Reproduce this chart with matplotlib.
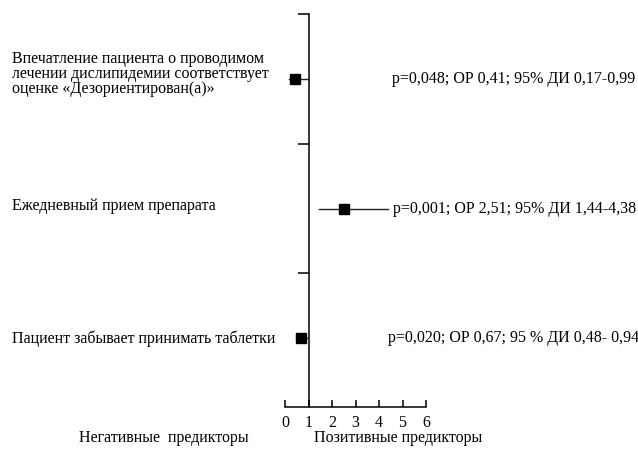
import matplotlib
matplotlib.use("Agg")
import matplotlib.pyplot as plt
from matplotlib.transforms import blended_transform_factory

# Predictors (top to bottom), odds ratios and 95% CI bounds
predictors = [
    "Впечатление пациента о проводимом\nлечении дислипидемии соответствует\nоценке «Дезориентирован(а)»",
    "Ежедневный прием препарата",
    "Пациент забывает принимать таблетки",
]
odds_ratio = [0.41, 2.51, 0.67]
ci_low = [0.17, 1.44, 0.48]
ci_high = [0.99, 4.38, 0.94]
stats_text = [
    "p=0,048; ОР 0,41; 95% ДИ 0,17-0,99",
    "p=0,001; ОР 2,51; 95% ДИ 1,44-4,38",
    "p=0,020; ОР 0,67; 95 % ДИ 0,48- 0,94",
]
stats_x = [392, 393, 388]
x_ticks = [0, 1, 2, 3, 4, 5, 6]
row_y = [2.5, 1.5, 0.5]

plt.rcParams["font.family"] = ["Liberation Serif", "DejaVu Serif"]

fig = plt.figure(figsize=(6.38, 4.49), dpi=100)
ax = fig.add_axes([285 / 638, (449 - 407) / 449, 141 / 638, (407 - 14) / 449])

for y, orv, lo, hi in zip(row_y, odds_ratio, ci_low, ci_high):
    ax.plot([lo, hi], [y, y], color="#222222", lw=1.0, zorder=2)
    ax.plot([orv], [y], marker="s", ms=7.5, color="black", zorder=3)

ax.set_xlim(0, 6)
ax.set_ylim(-0.03, 3)

ax.spines["top"].set_visible(False)
ax.spines["right"].set_visible(False)
ax.spines["left"].set_position(("data", 1))
ax.spines["left"].set_bounds(-0.03, 3)
for s in ("left", "bottom"):
    ax.spines[s].set_linewidth(1.1)
    ax.spines[s].set_color("black")

ax.set_xticks(x_ticks)
ax.set_xticklabels([str(t) for t in x_ticks], fontsize=11.5)
ax.tick_params(axis="x", direction="in", length=5, width=1.1, pad=6)
ax.set_yticks([1, 2, 3])
ax.set_yticklabels([])
ax.tick_params(axis="y", direction="out", length=8, width=1.1)

tr = blended_transform_factory(fig.transFigure, ax.transData)
label_offsets = [0.04, 0.02, 0.0]
for y, name, stat, sx, off in zip(row_y, predictors, stats_text, stats_x, label_offsets):
    ax.text(12 / 638, y + off, name, transform=tr, ha="left", va="center",
            fontsize=11.5, linespacing=0.92, clip_on=False)
    ax.text(sx / 638, y, stat, transform=tr, ha="left", va="center",
            fontsize=11.5, clip_on=False)

fig.text(164 / 638, 1 - 438 / 449, "Негативные  предикторы", ha="center", va="center", fontsize=11.5)
fig.text(398 / 638, 1 - 438 / 449, "Позитивные предикторы", ha="center", va="center", fontsize=11.5)

fig.savefig("out.png", dpi=100, facecolor="white")
